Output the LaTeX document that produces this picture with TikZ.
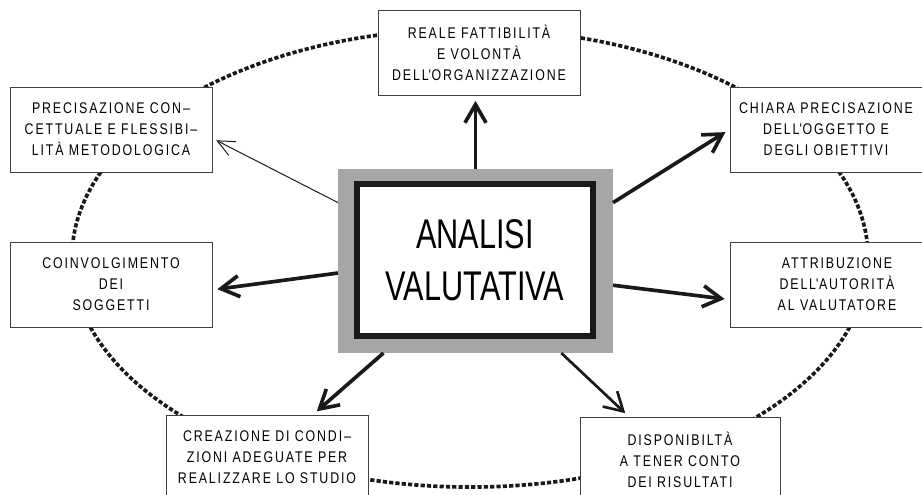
\documentclass[tikz,border=0pt]{standalone}
\usepackage{fontspec}
\setmainfont{Liberation Sans}
\newfontfamily\boxfont{Liberation Sans}[FakeStretch=0.8,LetterSpace=12]
\newfontfamily\bigfont{Liberation Sans}[FakeStretch=0.74]
\usepackage{xcolor}
\usepackage{tikz}
\usetikzlibrary{positioning,arrows.meta}

\begin{document}
\begin{tikzpicture}[
    x=0.025cm, y=-0.025cm,
    box/.style = {
        rectangle,
        draw=black!75,
        line width=0.6pt,
        fill=white,
        minimum width=5.05cm,
        minimum height=2.125cm,
        align=center,
        inner xsep=2pt,
        font=\boxfont\fontsize{11pt}{14.9pt}\selectfont
    },
    corebox/.style  = {rectangle, fill=black!35, minimum width=6.875cm, minimum height=4.6cm, outer sep=0pt},
    titlebox/.style = {rectangle, draw=black!90, fill=white, line width=4.3pt, minimum width=5.9cm, minimum height=3.8cm,
                       align=center, font=\bigfont\fontsize{29.5pt}{37pt}\selectfont},
    arrow/.style     = {-{Straight Barb[length=13pt,width=15pt]}, line width=2.6pt, draw=black!90, shorten >=3.5pt},
    medarrow/.style  = {arrow, line width=1.9pt},
    thinarrow/.style = {-{Straight Barb[length=12pt,width=11pt]}, line width=0.7pt, draw=black!90, shorten >=3pt},
    ring/.style      = {line width=2.6pt, dash pattern=on 3pt off 1.5pt, draw=black!90},
    line join=miter
]

\useasboundingbox (0,0) rectangle (922,494);

% Dotted ring behind the boxes
\draw[ring] (470,258) ellipse (9.95cm and 5.725cm);

% Top row
\node[box] (reale) at (479,53) {
    REALE FATTIBILITÀ\\
    E VOLONTÀ\\
    DELL\textquotesingle ORGANIZZAZIONE
};

\node[box] (precis) at (111,129.5) {
    PRECISAZIONE CON–\\
    CETTUALE E FLESSIBI–\\
    LITÀ METODOLOGICA
};

\node[box, minimum width=4.8cm] (chiara) at (826,129.5) {
    CHIARA PRECISAZIONE\\
    DELL\textquotesingle OGGETTO E\\
    DEGLI OBIETTIVI
};

% Middle row
\node[box] (coinv) at (111,284.5) {
    COINVOLGIMENTO\\
    DEI\\
    SOGGETTI
};

\node[box, minimum width=5.35cm] (attrib) at (837,284.5) {
    ATTRIBUZIONE\\
    DELL\textquotesingle AUTORITÀ\\
    AL VALUTATORE
};

% Bottom row
\node[box] (crea) at (267,457.5) {
    CREAZIONE DI CONDI–\\
    ZIONI ADEGUATE PER\\
    REALIZZARE LO STUDIO
};

\node[box, minimum width=5cm] (disp) at (680,459.5) {
    DISPONIBILTÀ\\
    A TENER CONTO\\
    DEI RISULTATI
};

% Centre
\node[corebox] (core) at (475.5,261) {};
\node[titlebox] (analisi) at (475,260) {ANALISI\\VALUTATIVA};

% Arrows out of the centre
\draw[arrow] (core.north) -- (core.north |- reale.south);
\draw[arrow] (core.23) -- (chiara.west);
\draw[thinarrow] (core.157) -- (precis.-5);
\draw[arrow] (core.185) -- (coinv.-3);
\draw[arrow] (core.-10) -- (attrib.188);
\draw[arrow] (core.225) -- (crea.43);
\draw[medarrow] (core.-47) -- (disp.140);

\end{tikzpicture}
\end{document}
